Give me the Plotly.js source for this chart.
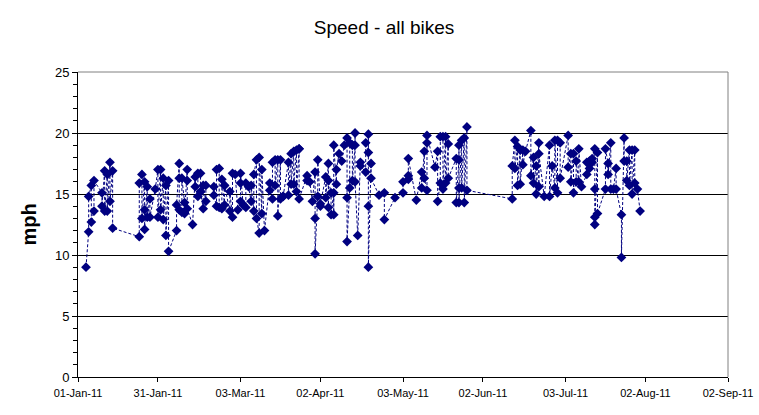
<!DOCTYPE html>
<html>
<head>
<meta charset="utf-8">
<script src="https://cdn.plot.ly/plotly-3.0.1.min.js"></script>
<style>
  html, body { margin: 0; padding: 0; background: #fff; }
  #chart { width: 759px; height: 415px; }
</style>
</head>
<body>
<div id="chart"></div>
<script>
// Ride dates (2011, MM-DD) and average speed in mph
const rideDates = [
  '01-04','01-05','01-05','01-06','01-06','01-07','01-07',
  '01-10','01-10','01-11','01-11','01-12','01-12','01-13','01-13','01-14','01-14',
  '01-24','01-24','01-25','01-25','01-26','01-26','01-26','01-27','01-27','01-28','01-28',
  '01-30','01-31','01-31','02-01','02-01','02-02','02-02','02-03','02-03','02-04','02-04',
  '02-07','02-07','02-08','02-08','02-08','02-09','02-09','02-10','02-10','02-11','02-11','02-11',
  '02-13','02-14','02-14','02-15','02-15','02-16','02-16','02-17','02-17','02-18','02-18',
  '02-21','02-21','02-22','02-22','02-23','02-23','02-24','02-24','02-25','02-25','02-25',
  '02-27','02-27','02-28','02-28','03-01','03-02','03-03','03-03','03-03','03-04',
  '03-05','03-05','03-06','03-07','03-07','03-08','03-08','03-09','03-09','03-10','03-10',
  '03-11','03-11','03-12','03-14','03-14','03-15','03-15','03-16','03-16','03-17','03-17',
  '03-18','03-18','03-19','03-19','03-21','03-21','03-22','03-22','03-23','03-23','03-24','03-24',
  '03-25','03-25','03-25','03-28','03-28','03-29','03-30','03-31','03-31','03-31',
  '04-01','04-01','04-02','04-02','04-04','04-04','04-05','04-05','04-05','04-06','04-06',
  '04-07','04-07','04-07','04-08','04-08','04-09','04-10','04-11','04-12','04-12','04-12',
  '04-13','04-13','04-14','04-14','04-14','04-15','04-15','04-15','04-16','04-17','04-17',
  '04-19','04-19','04-20','04-20','04-20','04-20','04-21','04-21','04-24','04-26','04-26','04-30',
  '05-03','05-03','05-05','05-05','05-05','05-08','05-10','05-10','05-11','05-11',
  '05-12','05-12','05-12','05-15','05-16','05-16','05-17','05-17','05-18','05-18','05-19','05-19',
  '05-20','05-20','05-23','05-23','05-24','05-24','05-24','05-24','05-25','05-25','05-26','05-26',
  '05-27','05-27',
  '06-13','06-13','06-14','06-14','06-15','06-15','06-16','06-16','06-17','06-17','06-18',
  '06-20','06-20','06-21','06-21','06-22','06-22','06-23','06-23','06-23','06-25',
  '06-27','06-27','06-28','06-29','06-29','06-30','06-30','07-01','07-01',
  '07-04','07-04','07-05','07-05','07-06','07-06','07-07','07-07','07-08','07-08','07-09',
  '07-11','07-11','07-12','07-12','07-13','07-13','07-14','07-14','07-14','07-14','07-15','07-15',
  '07-18','07-18','07-19','07-19','07-20','07-20','07-21','07-22','07-22',
  '07-24','07-24','07-25','07-25','07-26','07-26','07-27','07-27','07-28','07-28','07-29','07-29',
  '07-30','07-31'
];
const rideSpeeds = [
  9.0, 11.9,14.8, 15.7,12.7, 13.6,16.1,
  15.1,14.0, 16.9,13.6, 16.6,13.6, 17.6,14.4, 16.9,12.2,
  11.5,15.9, 16.6,13.0, 16.0,13.7,12.1, 15.6,13.1, 14.6,13.1,
  15.4, 17.0,13.1, 17.0,13.7, 16.3,12.9, 15.7,11.6, 16.1,10.3,
  12.0,14.1, 17.5,16.3,13.7, 13.5,16.3, 14.3,13.4, 17.0,16.1,13.8,
  12.5, 16.4,15.6, 14.8,16.7, 16.7,15.2, 13.8,15.7, 14.4,15.7,
  15.6,14.9, 14.0,17.0, 17.1,13.9, 13.8,16.2, 14.1,15.7,15.7,
  13.6,15.2, 13.1,16.7, 16.6, 13.7, 14.4,15.9,16.7, 14.1,
  13.9,15.9, 15.6, 14.4,15.7, 13.6,16.6, 17.8,13.0, 11.8,18.0,
  13.4,17.0, 12.0, 15.9,15.3, 14.6,17.6, 17.8,15.7, 17.8,13.2,
  17.8,14.6, 14.8,14.8, 17.6,14.9, 18.3,15.8, 18.5,15.8, 18.6,15.2,
  18.7,18.7,14.6, 16.5,16.1, 16.0, 14.4, 16.8,13.0,10.1,
  14.8,17.8, 14.0,14.2, 16.4,14.7, 17.5,13.9,16.1, 15.1,13.3,
  15.1,13.3,19.0, 15.8,17.0, 18.3, 17.7, 19.0, 19.6,14.7,11.1,
  15.5,19.2, 19.0,19.0,16.1, 19.0,20.0,16.0, 11.6, 17.6,17.3,
  16.8,19.2, 18.4,14.0,19.9,9.0, 17.5,16.3, 14.9, 15.1,12.9, 14.7,
  15.1,16.0, 16.2,16.5,17.9, 14.5, 16.8,15.5, 18.5,16.3,
  15.3,19.2,19.8, 17.2, 18.5,14.4, 15.9,19.7, 19.7,15.4, 19.7,15.9,
  19.1,16.3, 17.9,14.3, 17.8,19.0,15.5,14.3, 19.4,15.5, 19.6,14.3,
  20.5,15.3,
  14.6,17.3, 19.4,17.1, 18.9,15.7, 18.6,15.8, 18.6,17.4, 18.5,
  20.2,16.5, 18.0,15.9, 17.3,15.0, 19.2,15.6,18.3, 14.8,
  19.0,14.8, 17.3, 15.5,19.4, 15.1,19.4, 19.2,16.3,
  19.8,17.2, 18.3,16.0, 18.3,15.1, 16.0,17.7, 16.0,18.7, 15.6,
  16.6,17.6, 17.7,17.1, 17.9,17.6, 18.7,15.4,13.1,12.5, 18.4,13.4,
  15.4,18.7, 17.5,16.6, 19.2,15.4, 15.4, 17.1,15.4,
  13.3,9.8, 19.6,17.7, 17.7,16.1, 18.6,15.7, 18.6,15.0, 18.6,15.9,
  15.4, 13.6
];
const tickDates = ['2011-01-01','2011-01-31','2011-03-03','2011-04-02','2011-05-03',
                   '2011-06-02','2011-07-03','2011-08-02','2011-09-02'];

const xDates = rideDates.map(d => '2011-' + d);

const trace = {
  type: 'scatter',
  mode: 'lines+markers',
  x: xDates,
  y: rideSpeeds,
  line: { color: '#000080', width: 1, dash: '3px,2px' },
  marker: { symbol: 'diamond', size: 7.5, color: '#000080', line: { width: 0 } },
  hoverinfo: 'x+y'
};

const layout = {
  width: 759, height: 415,
  margin: { l: 78, r: 31, t: 72, b: 38 },
  paper_bgcolor: '#ffffff', plot_bgcolor: '#ffffff',
  showlegend: false,
  font: { family: 'Liberation Sans, Arial, sans-serif', color: '#000' },
  title: {
    text: 'Speed - all bikes',
    font: { family: 'Liberation Sans, Arial, sans-serif', size: 19, color: '#000' },
    x: 0.506, xref: 'container', xanchor: 'center',
    y: 0.935, yref: 'container', yanchor: 'middle'
  },
  xaxis: {
    type: 'date',
    range: ['2011-01-01', '2011-09-02'],
    tickvals: tickDates,
    tickformat: '%d-%b-%y',
    ticks: 'outside', ticklen: 4, tickcolor: '#000', tickwidth: 1,
    ticklabelstandoff: 2,
    showline: true, linecolor: '#000', linewidth: 1,
    showgrid: false, zeroline: false,
    tickfont: { size: 11, color: '#000' }
  },
  yaxis: {
    range: [0, 25], tick0: 0, dtick: 5,
    ticks: 'outside', ticklen: 5, tickcolor: '#000', tickwidth: 1,
    showline: true, linecolor: '#000', linewidth: 1,
    showgrid: true, gridcolor: '#000', gridwidth: 1,
    zeroline: false,
    tickfont: { size: 13, color: '#000' },
    minor: { dtick: 1, ticks: 'outside', ticklen: 4, tickcolor: '#000', showgrid: false },
    title: { text: '<b>mph</b>', font: { size: 20, color: '#000' }, standoff: 12 }
  },
  shapes: [
    { type: 'path', xref: 'paper', yref: 'paper', path: 'M0,1 L1,1 L1,0',
      line: { color: '#808080', width: 1 }, layer: 'above' }
  ]
};

Plotly.newPlot('chart', [trace], layout, { displayModeBar: false, staticPlot: true });
</script>
</body>
</html>
